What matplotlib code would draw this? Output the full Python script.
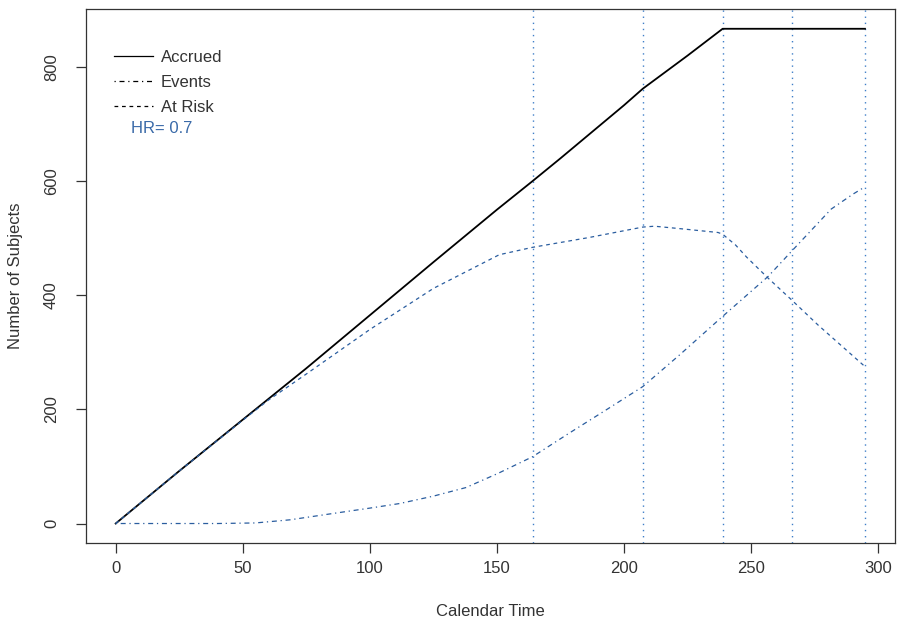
import matplotlib
matplotlib.use("Agg")
import matplotlib.pyplot as plt
from matplotlib.lines import Line2D

plt.rcParams['font.family'] = ['Liberation Sans', 'DejaVu Sans']

# values
accrued_t = [0, 25, 50, 75, 100, 125, 150, 164, 175, 200, 207.4, 225, 238.8, 294.8]
accrued_n = [0, 92, 182, 272, 365, 458, 550, 600, 640, 733, 762, 820, 867, 867]

events_t = [0, 20, 40, 55, 68.6, 85.5, 100, 111.7, 125, 137.8, 150.5, 164, 178.3, 194,
            207.4, 222, 238.8, 256.7, 265.9, 281.5, 290, 294.8]
events_n = [0, 0, 0, 1, 6.5, 17.6, 27, 35, 48, 63, 88, 117, 158, 202,
            240, 296, 363, 433, 477, 551, 577, 590]

risk_t = [0, 25, 50, 60, 75, 100, 125, 150.9, 164, 186, 207.4, 212, 221.4, 237, 238.8,
          243.9, 248.2, 256.7, 265.9, 276.3, 286.7, 294.8]
risk_n = [0, 92, 181, 216, 262, 340, 412, 471, 484, 501, 519.5, 521, 517, 510, 507,
          488, 467, 430, 392, 348, 307, 275]

analysis_times = [164.1, 207.4, 238.8, 265.9, 294.8]
hr_text = "HR= 0.7"

line_blue = '#2a5d9f'
vline_blue = '#3f7fc8'
ink = '#333333'

fig = plt.figure(figsize=(9.01, 6.23), dpi=100)
ax = fig.add_axes([0.0951, 0.1279, 0.8982, 0.8577])

for t in analysis_times:
    ax.axvline(t, color=vline_blue, lw=1.0, linestyle=(0, (1.0, 3.4)))

ax.plot(accrued_t, accrued_n, color='black', lw=1.3)
ax.plot(events_t, events_n, color=line_blue, lw=0.9, linestyle=(0, (1, 3, 4, 3)))
ax.plot(risk_t, risk_n, color=line_blue, lw=0.9, linestyle=(0, (3, 3)))

ax.set_xlim(-11.8, 306.6)
ax.set_ylim(-34.7, 901.7)
ax.set_xticks([0, 50, 100, 150, 200, 250, 300])
ax.set_yticks([0, 200, 400, 600, 800])
ax.set_yticklabels(['0', '200', '400', '600', '800'], rotation=90, va='center')

ax.tick_params(axis='both', direction='out', length=7.2, width=0.9, colors=ink,
               labelsize=12)
ax.tick_params(axis='x', pad=5.5)
ax.tick_params(axis='y', pad=12)
for sp in ax.spines.values():
    sp.set_color(ink)
    sp.set_linewidth(0.9)

ax.set_xlabel('Calendar Time', fontsize=12, color=ink, labelpad=20)
ax.set_ylabel('Number of Subjects', fontsize=12, color=ink, labelpad=15)

handles = [Line2D([], [], color='black', lw=0.9),
           Line2D([], [], color='black', lw=0.9, linestyle=(0, (1, 3, 4, 3))),
           Line2D([], [], color='black', lw=0.9, linestyle=(0, (3, 3)))]
leg = ax.legend(handles, ['Accrued', 'Events', 'At Risk'], loc='upper left',
                bbox_to_anchor=(0.035, 0.923), frameon=False, borderpad=0,
                borderaxespad=0, handlelength=2.34, handletextpad=0.46,
                labelspacing=0.6, fontsize=12)
for txt in leg.get_texts():
    txt.set_color(ink)

ax.text(0.0556, 0.777, hr_text, transform=ax.transAxes, color='#3a6aa8',
        fontsize=12, va='center', ha='left')

fig.savefig('out.png', dpi=100)
